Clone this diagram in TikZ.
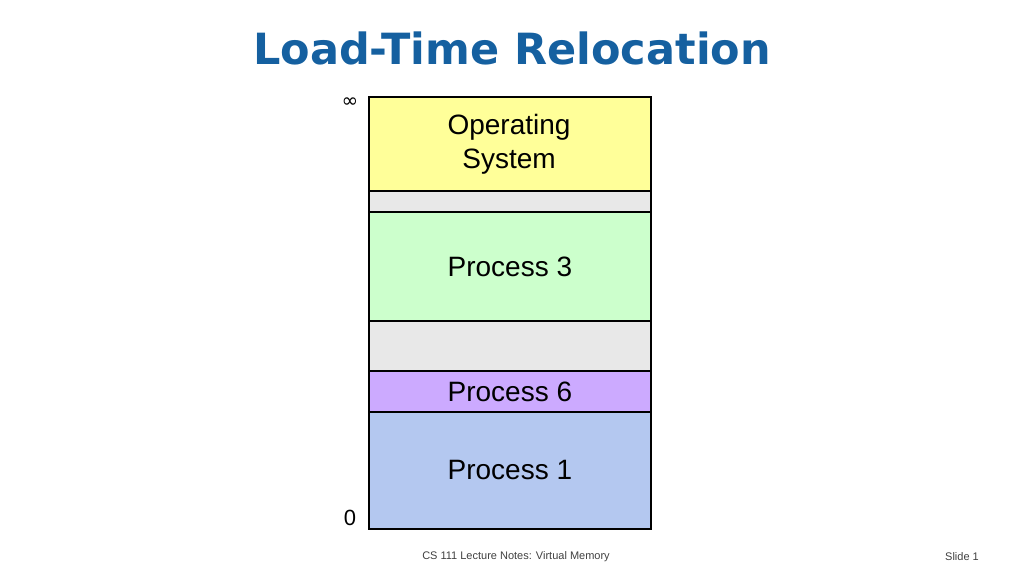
\documentclass[tikz,border=0pt]{standalone}
\usepackage{fontspec}
\setmainfont{Liberation Sans}
\newfontfamily\titlefont{DejaVu Sans}
\definecolor{ttl}{HTML}{1560A0}
\definecolor{osc}{HTML}{FFFF99}
\definecolor{gapc}{HTML}{E8E8E8}
\definecolor{p3c}{HTML}{CCFFCC}
\definecolor{p6c}{HTML}{CCAAFF}
\definecolor{p1c}{HTML}{B4C8F0}
\begin{document}
\begin{tikzpicture}[x=1pt,y=-1pt,
  mem/.style={draw=black,line width=1.8pt,minimum width=282pt,inner sep=0pt,anchor=north west,font=\fontsize{28}{32}\selectfont,align=center}]
\useasboundingbox (0,0) rectangle (1024,576);
\node (title) at (512,48) {\titlefont\bfseries\color{ttl}\fontsize{43}{46}\selectfont Load-Time Relocation};
\node[mem,fill=osc,minimum height=94pt] (os) at (368,96) {};
\node[font=\fontsize{28}{34}\selectfont,align=center] (ostext) at (509,144) {Operating\\System};
\node[mem,fill=gapc,minimum height=21pt] (g1) at (368,190) {};
\node[mem,fill=p3c,minimum height=109pt] (p3) at (368,211) {Process 3};
\node[mem,fill=gapc,minimum height=50pt] (g2) at (368,320) {};
\node[mem,fill=p6c,minimum height=41pt] (p6) at (368,370) {Process 6};
\node[mem,fill=p1c,minimum height=117pt] (p1) at (368,411) {Process 1};
\node[font=\titlefont\fontsize{20}{24}\selectfont] (inf) at (350,103) {∞};
\node[font=\fontsize{22}{26}\selectfont] (zero) at (350,518) {0};
\node[font=\fontsize{11}{13}\selectfont,text=black!75] (foot) at (516,557) {CS 111 Lecture Notes: Virtual Memory};
\node[font=\fontsize{11}{13}\selectfont,text=black!75] (slide) at (962,557) {Slide 1};
\end{tikzpicture}
\end{document}
